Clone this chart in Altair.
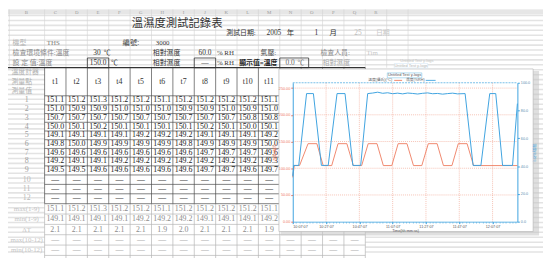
import json
import altair as alt
import pandas as pd

# ---------------- data ----------------
TITLE = "溫濕度測試記錄表"
COL_LETTERS = ["B", "C", "D", "E", "F", "G", "H", "I", "J", "K", "L", "M", "N", "O", "P", "Q", "R"]
SENSORS = ["t1", "t2", "t3", "t4", "t5", "t6", "t7", "t8", "t9", "t10", "t11"]
READINGS = [
    [151.1, 151.2, 151.3, 151.2, 151.2, 151.1, 151.2, 151.2, 151.2, 151.2, 151.1],
    [151.0, 150.9, 150.9, 151.0, 151.0, 151.0, 150.9, 150.9, 151.0, 150.9, 151.0],
    [150.7, 150.7, 150.7, 150.7, 150.7, 150.7, 150.7, 150.7, 150.7, 150.8, 150.8],
    [150.0, 150.1, 150.2, 150.1, 150.1, 150.1, 150.1, 150.2, 150.1, 150.0, 150.1],
    [149.1, 149.1, 149.1, 149.1, 149.2, 149.2, 149.2, 149.1, 149.1, 149.1, 149.2],
    [149.8, 150.0, 149.9, 149.9, 149.9, 149.9, 149.8, 149.9, 149.9, 149.9, 150.0],
    [149.6, 149.6, 149.6, 149.6, 149.6, 149.6, 149.6, 149.7, 149.7, 149.7, 149.6],
    [149.2, 149.1, 149.1, 149.2, 149.2, 149.2, 149.2, 149.2, 149.2, 149.2, 149.3],
    [149.5, 149.5, 149.6, 149.6, 149.6, 149.6, 149.6, 149.7, 149.7, 149.6, 149.7],
]
MAX_1_9 = [151.1, 151.2, 151.3, 151.2, 151.2, 151.1, 151.2, 151.2, 151.2, 151.2, 151.1]
MIN_1_9 = [149.1, 149.1, 149.1, 149.1, 149.2, 149.2, 149.2, 149.1, 149.1, 149.1, 149.2]
DELTA_T = [2.1, 2.1, 2.1, 2.1, 2.1, 1.9, 2.0, 2.1, 2.1, 2.1, 1.9]
ROW_LABELS = ["1", "2", "3", "4", "5", "6", "7", "8", "9", "10", "11", "12"]
SUMMARY_LABELS = ["max(1-9)", "min(1-9)", "ΔT", "max(10-12)", "min(10-12)"]
HEADER_LABELS = ["溫度計器", "測量點", "測量值"]

# info cells of the sheet: (text, column, row, colour)
INFO_LEFT = [
    ("機型", -1.0, -6, "#b4b4b4"), ("THS", 0.6, -6, "#777777"), ("3000", 5.7, -6, "#333333"),
    ("檢查環境條件:溫度", -1.0, -5, "#8a8a8a"), ("℃", 3.27, -5, "#333333"),
    ("相對濕度", 5.56, -5, "#333333"), ("% RH", 8.56, -5, "#333333"), ("氣壓:", 10.6, -5, "#555555"),
    ("檢查人員:", 13.4, -5, "#888888"), ("Tim", 15.56, -5, "#c8c8c8"),
    ("設 定 值:溫度", -1.0, -4, "#8a8a8a"), ("℃", 3.6, -4, "#333333"), ("相對濕度", 5.56, -4, "#333333"),
    ("% RH", 8.56, -4, "#333333"), ("℃", 12.33, -4, "#777777"), ("相對濕度", 13.5, -4, "#aaaaaa"),
    ("測試日期:", 9.0, -7, "#333333"), ("日期", 16.0, -7, "#c8c8c8"),
]
INFO_BOLD = [("顯示值=溫度", 9.6, -4, "#222222")]
INFO_RIGHT = [
    ("編號:", 4.93, -6, "#444444"), ("30", 3.12, -5, "#333333"), ("0.0", 12.2, -4, "#666666"),
    ("2005", 11.57, -7, "#333333"), ("1", 13.3, -7, "#333333"), ("25", 15.33, -7, "#bbbbbb"),
]
INFO_CENTER = [("150.0", 3, -4, "#333333"), ("60.0", 8, -5, "#333333"), ("—", 8, -4, "#333333"),
               ("年", 12, -7, "#333333"), ("月", 14, -7, "#333333")]

# inset chart (minutes from start)
RED_MIN = [0, 0.9, 4.1, 9.2, 14.5, 18.3, 23.4, 27.2, 32.5, 36.4, 41.4, 45.3, 50.6, 54.4, 59.5,
           63.3, 68.6, 72.5, 77.5, 81.4, 86.7, 90.5, 95.6, 99.4, 104.7, 108.6, 134.9]
RED_VAL = [83, 105, 105, 146, 146, 105, 105, 146, 146, 105, 105, 146, 146, 105, 105,
           146, 146, 105, 105, 146, 146, 105, 105, 146, 146, 105, 105]
BLUE_MIN = [0, 0.6, 3.6, 8.3, 12.4, 17.2, 21.3, 26.6, 31.4, 36.1, 40.8, 45.0,
            48, 51, 54, 57, 60, 63, 66, 69, 72, 75, 78, 81, 84, 87, 90, 93, 96, 99,
            103.5, 108.3, 113.0, 118.3, 121.9, 126.0, 132.0, 134.9]
BLUE_VAL = [33, 40.5, 40.5, 92.2, 92.2, 40.5, 40.5, 92.2, 92.2, 40.5, 40.5, 92.2,
            92.6, 93.2, 92.4, 92.8, 92.1, 92.5, 92.0, 92.6, 92.3, 91.9, 92.4, 92.7, 92.1, 92.3, 91.8, 92.2, 92.5, 92.0,
            92.2, 40.5, 40.5, 92.2, 92.2, 40.5, 40.5, 85]
X_TICKS = [0, 20, 40, 60, 80, 100, 120]
X_TICK_LABELS = ["10:07:07", "10:27:07", "10:47:07", "11:07:07", "11:27:07", "11:47:07", "12:07:07"]
TEMP_TICKS = [0, 50, 100, 150, 200, 250]
HUM_TICKS = [0, 20, 40, 60, 80, 100]
X_END = 134.9
INSET_TITLE = "Untitled Test y-logs"
LEGEND = ["溫度(攝氏)(°C)", "濕度(%RH)"]

# ---------------- layout ----------------
OX, OY = 8, 8
W, H = 543, 250
SERIF = "Liberation Serif, Noto Sans CJK TC"
CJK = "Noto Sans CJK TC"
SANS = "Liberation Sans, Noto Sans CJK TC"
RED = "#ee7b5f"
BLUE = "#3ea3df"
ONE = pd.DataFrame({"k": [0]})

XS = alt.Scale(domain=[1, 11], range=[56 - OX, 273 - OX], zero=False, nice=False)
YS = alt.Scale(domain=[-8, -4, 0, 8, 11, 16],
               range=[y - OY for y in [21, 62, 100, 170.8, 199.5, 252]], zero=False, nice=False)


def sx(f="c"):
    return alt.X(f"{f}:Q", scale=XS, axis=None)


def sy(f="r"):
    return alt.Y(f"{f}:Q", scale=YS, axis=None)


def texts(rows, align="center", font=SERIF, weight="normal", size=8):
    df = pd.DataFrame(rows, columns=["t", "c", "r", "col"])
    return alt.Chart(df).mark_text(align=align, baseline="middle", font=font, fontWeight=weight,
                                   fontSize=size).encode(
        x=sx(), y=sy(), text="t:N", color=alt.Color("col:N", scale=None))


def segs(rows, color, width, mark="rule", **kw):
    df = pd.DataFrame(rows, columns=["c", "c2", "r", "r2"])
    ch = alt.Chart(df)
    m = ch.mark_rule(color=color, strokeWidth=width, **kw) if mark == "rule" else \
        ch.mark_rect(stroke=color, strokeWidth=width, **kw)
    return m.encode(x=sx(), x2=alt.X2("c2:Q"), y=sy(), y2=alt.Y2("r2:Q"))


def pbox(x1, y1, x2, y2, **kw):
    return alt.Chart(ONE).mark_rect(**kw).encode(
        x=alt.value(x1 - OX), x2=alt.value(x2 - OX), y=alt.value(y1 - OY), y2=alt.value(y2 - OY))


def ptext(s, x, y, align="center", color="#555", size=4, font=SANS):
    return alt.Chart(ONE).mark_text(text=s, align=align, baseline="middle", color=color,
                                    fontSize=size, font=font).encode(
        x=alt.value(x - OX), y=alt.value(y - OY))


def pline(x1, x2, y, color, width=0.9):
    return alt.Chart(ONE).mark_rule(color=color, strokeWidth=width).encode(
        x=alt.value(x1 - OX), x2=alt.value(x2 - OX), y=alt.value(y - OY))


layers = []
# spreadsheet stripes
layers.append(alt.Chart(ONE).mark_rule(color="#e3e3e3", strokeWidth=W, strokeDash=[1.6, 3.4]).encode(
    x=alt.value(W / 2), y=alt.value(0), y2=alt.value(H)))
# header band + faint column lines
layers.append(segs([(-1.6, 24, -9.3, -8.8)], "#e4e4e4", 0, mark="rect", fill="#e6e6e6"))
layers.append(segs([(c, c, -9.3, -3.5) for c in [-1.15] + [k + 0.5 for k in range(18)]], "#d2d2d2", 0.6))
layers.append(texts([(t, c, -9.08, "#9c9c9c") for t, c in zip(COL_LETTERS, [-0.35] + list(range(1, 17)))],
                    size=5))
# table white area and lines
layers.append(segs([(0.5, 15.5, -3.5, 17)], "white", 0, mark="rect", fill="white"))
layers.append(segs([(k + 0.5, k + 0.5, -3.5, 11.5) for k in range(16)], "#4a4a4a", 0.7))
layers.append(segs([(k + 0.5, k + 0.5, 11.5, 17) for k in range(16)], "#b4b4b4", 0.7))
layers.append(segs([(0.5, 15.5, r + 0.5, r + 0.5) for r in range(-1, 12)], "#4a4a4a", 0.7))
layers.append(segs([(0.5, 15.5, r + 0.5, r + 0.5) for r in range(12, 17)], "#b4b4b4", 0.7))
layers.append(segs([(-1.6, 15.5, -3.5, -3.5)], "#333333", 1.3))
# boxes in info rows
layers.append(segs([(2.5, 3.5, -4.5, -3.5), (7.5, 8.5, -4.5, -3.5), (11.5, 12.85, -4.5, -3.5)],
                   "#333333", 0.8, mark="rect", fill="white", fillOpacity=0))
# title + info
layers.append(texts([(TITLE, 6.7, -7.85, "#333333")], font=CJK, size=11.5))
layers.append(texts(INFO_LEFT, align="left", size=7))
layers.append(texts(INFO_BOLD, align="left", size=7, weight="bold"))
layers.append(texts(INFO_RIGHT, align="right", size=7.5))
layers.append(texts(INFO_CENTER, align="center", size=7.5))
# table texts
layers.append(texts([(t, -1.05, r, "#b0b0b0") for t, r in zip(HEADER_LABELS, [-3, -2, -1])], align="left", size=7))
layers.append(texts([(s, i + 1, -2, "#333333") for i, s in enumerate(SENSORS)]))
cells = []
for i, row in enumerate(READINGS):
    for j, v in enumerate(row):
        cells.append((f"{v:.1f}", j + 1, i, "#222222"))
for r in (9, 10, 11):
    for j in range(11):
        cells.append(("—", j + 1, r, "#444444"))
for r, arr in zip((12, 13, 14), (MAX_1_9, MIN_1_9, DELTA_T)):
    for j, v in enumerate(arr):
        cells.append((f"{v:.1f}", j + 1, r, "#8c8c8c"))
for r in (15, 16):
    for j in range(15):
        cells.append(("—", j + 1, r, "#b0b0b0"))
layers.append(texts(cells))
layers.append(texts([(t, -0.34, i, "#a0a0a0" if i < 9 else "#b8b8b8") for i, t in enumerate(ROW_LABELS)]))
layers.append(texts([(t, -0.34, 12 + i, "#c4c4c4") for i, t in enumerate(SUMMARY_LABELS)], size=7))

# ---------------- inset chart window ----------------
layers.append(pbox(285, 70, 547, 237, fill="#c4c4c4", opacity=0.55))
layers.append(pbox(283, 68, 541, 233, fill="white", stroke="#b8b8b8", strokeWidth=0.7))
layers.append(ptext(INSET_TITLE, 423, 60, color="#c4c4c4"))
layers.append(pbox(400, 62.5, 434, 67, fill="white", stroke="#d4e8f4", strokeWidth=0.6))
layers.append(ptext(INSET_TITLE, 417, 64.8, color="#b4b4b4"))
layers.append(pbox(393, 72, 428, 77, fill="white", stroke="#7fc3e8", strokeWidth=0.6))
layers.append(ptext(INSET_TITLE, 410.5, 74.5, color="#555555"))
layers.append(ptext(LEGEND[0], 398, 79.6, align="right", color="#666666", size=3.8))
layers.append(pline(400, 408, 79.6, RED))
layers.append(ptext(LEGEND[1], 412, 79.6, align="left", color="#666666", size=3.8))
layers.append(pline(432, 442, 79.6, BLUE))

TX = alt.Scale(domain=[0, X_END], range=[297 - OX, 525 - OX], zero=False, nice=False)
TYL = alt.Scale(domain=[0, 260], range=[223 - OY, 82 - OY], zero=False, nice=False)
TYR = alt.Scale(domain=[0, 100], range=[223 - OY, 82 - OY], zero=False, nice=False)

hgrid = pd.DataFrame({"v": TEMP_TICKS[1:], "x0": 0, "x1": X_END})
layers.append(alt.Chart(hgrid).mark_rule(color="#ef9a85", strokeWidth=0.6, strokeDash=[1, 1]).encode(
    x=alt.X("x0:Q", scale=TX, axis=None), x2="x1:Q", y=alt.Y("v:Q", scale=TYL, axis=None)))
vgrid = pd.DataFrame({"m": X_TICKS[1:], "y0": 0, "y1": 260})
layers.append(alt.Chart(vgrid).mark_rule(color="#ef9a85", strokeWidth=0.6, strokeDash=[1, 1]).encode(
    x=alt.X("m:Q", scale=TX, axis=None), y=alt.Y("y0:Q", scale=TYL, axis=None), y2="y1:Q"))
top = pd.DataFrame({"x0": [0], "x1": [X_END], "v": [260]})
layers.append(alt.Chart(top).mark_rule(color=BLUE, strokeWidth=0.7, strokeDash=[2, 1]).encode(
    x=alt.X("x0:Q", scale=TX, axis=None), x2="x1:Q", y=alt.Y("v:Q", scale=TYL, axis=None)))

label_expr = json.dumps(X_TICK_LABELS) + "[round(datum.value / 20)]"
red_df = pd.DataFrame({"m": RED_MIN, "v": RED_VAL})
layers.append(alt.Chart(red_df).mark_line(color=RED, strokeWidth=0.9).encode(
    x=alt.X("m:Q", scale=TX, axis=alt.Axis(
        orient="bottom", offset=-35, values=X_TICKS, labelExpr=label_expr, labelFontSize=3.8,
        labelColor="#555555", labelPadding=1, labelFont=SANS, domainColor=BLUE, domainWidth=0.8,
        tickColor=BLUE, tickSize=2, grid=False, title="Time(hh:mm:ss)", titleFontSize=3.8,
        titleFontWeight="normal", titleColor="#555555", titlePadding=0.5, titleFont=SANS,
        labelOverlap=False, zindex=1)),
    y=alt.Y("v:Q", scale=TYL, axis=alt.Axis(
        orient="left", offset=-(297 - OX), values=TEMP_TICKS, format=".2f", labelFontSize=3.8,
        labelColor=RED, labelPadding=1, labelFont=SANS, domainColor=BLUE, domainWidth=1,
        tickColor=RED, tickSize=2, grid=False, title="溫度(攝氏)", titleFontSize=3.8, titleColor=RED,
        titleFontWeight="normal", titlePadding=1.5, titleFont=CJK, labelOverlap=False, zindex=1)),
))
blue_df = pd.DataFrame({"m": BLUE_MIN, "v": BLUE_VAL})
layers.append(alt.Chart(blue_df).mark_line(color=BLUE, strokeWidth=1).encode(
    x=alt.X("m:Q", scale=TX, axis=alt.Axis(
        orient="bottom", offset=-35, values=list(range(0, 135, 2)), labels=False, domain=False,
        tickColor=BLUE, tickSize=1.5, tickWidth=0.5, grid=False, title=None, zindex=1)),
    y=alt.Y("v:Q", scale=TYR, axis=alt.Axis(
        orient="right", offset=-(W - (525 - OX)), values=HUM_TICKS, format=".1f", labelFontSize=3.8,
        labelColor="#5b8fb0", labelPadding=1, labelFont=SANS, domainColor=BLUE, domainWidth=1,
        tickColor=BLUE, tickSize=2, grid=False, title="濕度(%RH)", titleFontSize=3.8, titleColor=BLUE,
        titleFontWeight="normal", titlePadding=2, titleFont=CJK, labelOverlap=False, zindex=1)),
))

chart = alt.layer(*layers).resolve_scale(x="independent", y="independent").properties(
    width=W, height=H, autosize=alt.AutoSizeParams(type="none"), padding=0, background="white"
).configure_view(strokeWidth=0)

chart.save("out.html", embed_options={"renderer": "svg", "actions": False})
